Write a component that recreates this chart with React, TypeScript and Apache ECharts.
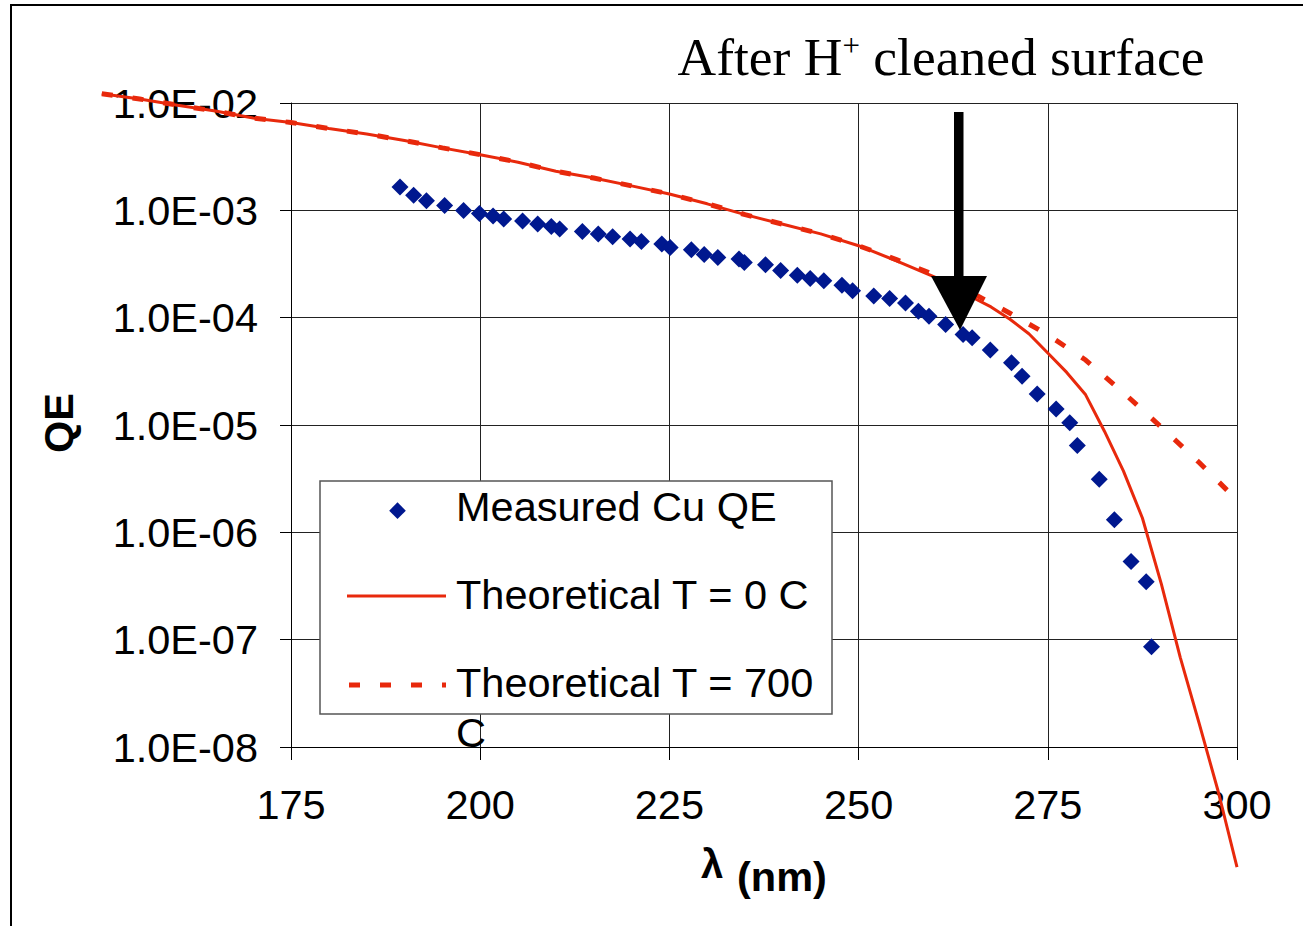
import React, { useEffect, useRef } from "react";
import * as echarts from "echarts";

// Measured Cu QE (wavelength nm, QE)
const measuredLambda = [
  189.4, 191.2, 192.9, 195.3, 197.8, 199.9, 201.7, 203.1, 205.6, 207.6,
  209.4, 210.5, 213.5, 215.6, 217.5, 219.8, 221.3, 224.0, 225.1, 227.9,
  229.6, 231.4, 234.2, 234.9, 237.7, 239.7, 241.9, 243.6, 245.4, 247.8,
  249.2, 252.0, 254.1, 256.2, 257.9, 259.3, 261.5, 263.8, 265.0, 267.4,
  270.2, 271.6, 273.6, 276.1, 277.9, 278.9, 281.8, 283.8, 286.0, 288.0,
  288.7,
];
const measuredQE = [
  1.65e-3, 1.38e-3, 1.23e-3, 1.11e-3, 9.98e-4, 9.35e-4, 8.85e-4, 8.3e-4, 7.94e-4, 7.45e-4,
  7.07e-4, 6.69e-4, 6.36e-4, 6.01e-4, 5.67e-4, 5.41e-4, 5.13e-4, 4.85e-4, 4.51e-4, 4.3e-4,
  3.88e-4, 3.64e-4, 3.52e-4, 3.27e-4, 3.11e-4, 2.75e-4, 2.49e-4, 2.32e-4, 2.21e-4, 2.0e-4,
  1.78e-4, 1.59e-4, 1.51e-4, 1.37e-4, 1.15e-4, 1.03e-4, 8.64e-5, 6.97e-5, 6.5e-5, 4.99e-5,
  3.8e-5, 2.85e-5, 1.94e-5, 1.41e-5, 1.05e-5, 6.44e-6, 3.13e-6, 1.31e-6, 5.34e-7, 3.46e-7,
  8.57e-8,
];

// Theoretical T = 0 C
const theoryT0Lambda = [
  150, 155, 160, 165, 170, 175, 180, 185, 190, 195, 200, 205, 210, 215, 220, 225,
  230, 235, 240, 245, 250, 255, 260, 262.5, 265, 267.5, 270, 272.5, 275, 277.5,
  280, 282.5, 285, 287.5, 290, 292.5, 295, 297.5, 300,
];
const theoryT0QE = [
  1.22e-2, 1.09e-2, 9.55e-3, 8.41e-3, 7.24e-3, 6.58e-3, 5.78e-3, 5.15e-3, 4.47e-3, 3.82e-3,
  3.3e-3, 2.81e-3, 2.31e-3, 2.0e-3, 1.69e-3, 1.42e-3, 1.15e-3, 9.12e-4, 7.41e-4, 6.03e-4,
  4.68e-4, 3.39e-4, 2.4e-4, 1.91e-4, 1.55e-4, 1.26e-4, 9.66e-5, 7.08e-5, 4.68e-5, 3.09e-5,
  1.91e-5, 8.71e-6, 3.72e-6, 1.36e-6, 3.31e-7, 6.84e-8, 1.66e-8, 3.89e-9, 7.59e-10,
];

// Theoretical T = 700 C
const theoryT700Lambda = [
  150, 155, 160, 165, 170, 175, 180, 185, 190, 195, 200, 205, 210, 215, 220, 225,
  230, 235, 240, 245, 250, 255, 260, 265, 270, 275, 280, 285, 290, 295, 300,
];
const theoryT700QE = [
  1.22e-2, 1.09e-2, 9.55e-3, 8.41e-3, 7.24e-3, 6.58e-3, 5.78e-3, 5.15e-3, 4.47e-3, 3.82e-3,
  3.3e-3, 2.81e-3, 2.31e-3, 2.0e-3, 1.69e-3, 1.42e-3, 1.15e-3, 9.12e-4, 7.41e-4, 6.03e-4,
  4.68e-4, 3.47e-4, 2.51e-4, 1.7e-4, 1.1e-4, 6.92e-5, 4.03e-5, 2.0e-5, 9.55e-6, 4.47e-6, 2.0e-6,
];

const xTickLabels = ["175", "200", "225", "250", "275", "300"];
const yTickLabels = ["1.0E-08", "1.0E-07", "1.0E-06", "1.0E-05", "1.0E-04", "1.0E-03", "1.0E-02"];

const seriesNames = ["Measured Cu QE", "Theoretical T = 0 C", "Theoretical T = 700\nC"];
const titleText = "After H";

const RED = "#E8290C";
const BLUE = "#00188F";
const FONT = "Liberation Sans";
const FS = 41.5;

// plot area geometry
const GRID_LEFT = 291;
const GRID_TOP = 103;
const GRID_W = 946;
const GRID_H = 644;
const X_MIN = 175;
const X_MAX = 300;
const THEORY_X_MIN = 150;
const PX_PER_NM = GRID_W / (X_MAX - X_MIN);

export default function App() {
  const ref = useRef<HTMLDivElement>(null);

  useEffect(() => {
    if (!ref.current) return;
    const chart = echarts.init(ref.current, undefined, { renderer: "svg" });

    const measured = measuredLambda.map((x, i) => [x, measuredQE[i]]);
    const t0 = theoryT0Lambda.map((x, i) => [x, theoryT0QE[i]]);
    const t700 = theoryT700Lambda.map((x, i) => [x, theoryT700QE[i]]);

    const extLeft = GRID_LEFT - (X_MIN - THEORY_X_MIN) * PX_PER_NM;

    const option: any = {
      animation: false,
      backgroundColor: "#fff",
      grid: [
        { left: GRID_LEFT, top: GRID_TOP, width: GRID_W, height: GRID_H, containLabel: false },
        { left: extLeft, top: GRID_TOP, width: GRID_W + (GRID_LEFT - extLeft), height: GRID_H, containLabel: false },
      ],
      xAxis: [
        {
          type: "value",
          gridIndex: 0,
          min: X_MIN,
          max: X_MAX,
          interval: 25,
          axisLine: { show: true, onZero: false, lineStyle: { color: "#000", width: 1 } },
          axisTick: { show: true, length: 13, lineStyle: { color: "#000" } },
          axisLabel: {
            margin: 36,
            fontFamily: FONT,
            fontSize: FS,
            color: "#000",
            formatter: (v: number) => xTickLabels[Math.round((v - X_MIN) / 25)] ?? "",
          },
          splitLine: { show: true, lineStyle: { color: "#222", width: 1 } },
        },
        {
          type: "value",
          gridIndex: 1,
          min: THEORY_X_MIN,
          max: X_MAX,
          show: false,
          splitLine: { show: false },
        },
      ],
      yAxis: [
        {
          type: "log",
          gridIndex: 0,
          logBase: 10,
          min: 1e-8,
          max: 1e-2,
          splitNumber: 6,
          axisLine: { show: true, lineStyle: { color: "#000", width: 1 } },
          axisTick: { show: true, length: 11, lineStyle: { color: "#000" } },
          minorTick: { show: false },
          axisLabel: {
            margin: 33,
            fontFamily: FONT,
            fontSize: FS,
            color: "#000",
            formatter: (v: number) => yTickLabels[Math.round(Math.log10(v)) + 8] ?? "",
          },
          splitLine: { show: true, lineStyle: { color: "#222", width: 1 } },
        },
        {
          type: "log",
          gridIndex: 1,
          logBase: 10,
          min: 1e-8,
          max: 1e-2,
          show: false,
          splitLine: { show: false },
        },
      ],
      series: [
        {
          name: seriesNames[0],
          type: "scatter",
          xAxisIndex: 0,
          yAxisIndex: 0,
          symbol: "diamond",
          symbolSize: 17,
          itemStyle: { color: BLUE, opacity: 1 },
          data: measured,
          z: 3,
        },
        {
          name: seriesNames[1],
          type: "line",
          xAxisIndex: 1,
          yAxisIndex: 1,
          symbol: "none",
          clip: false,
          lineStyle: { color: RED, width: 3 },
          data: t0,
          z: 4,
        },
        {
          name: seriesNames[2],
          type: "line",
          xAxisIndex: 1,
          yAxisIndex: 1,
          symbol: "none",
          clip: false,
          lineStyle: { color: RED, width: 5, type: [11, 20] },
          data: t700,
          z: 5,
        },
      ],
      graphic: [
        // outer chart-area border
        {
          type: "rect",
          z: 1,
          silent: true,
          shape: { x: 11, y: 5, width: 1400, height: 1000 },
          style: { fill: "none", stroke: "#000", lineWidth: 2 },
        },
        // title
        {
          type: "text",
          z: 20,
          x: 941,
          y: 57,
          style: {
            text: "{a|" + titleText + "}{s|+}{a| cleaned surface}",
            align: "center",
            verticalAlign: "middle",
            rich: {
              a: { fontFamily: "Liberation Serif", fontSize: 53.5, fill: "#000" },
              s: { fontFamily: "Liberation Serif", fontSize: 31, fill: "#000", verticalAlign: "top" },
            },
          },
        },
        // arrow
        {
          type: "rect",
          z: 20,
          shape: { x: 954, y: 112, width: 9.5, height: 166 },
          style: { fill: "#000" },
        },
        {
          type: "polygon",
          z: 20,
          shape: { points: [[931, 276], [987, 276], [960, 330]] },
          style: { fill: "#000" },
        },
        // y axis name
        {
          type: "text",
          z: 20,
          x: 58,
          y: 423,
          rotation: Math.PI / 2,
          style: {
            text: "QE",
            fontFamily: FONT,
            fontWeight: "bold",
            fontSize: FS,
            fill: "#000",
            align: "center",
            verticalAlign: "middle",
          },
        },
        // x axis name
        {
          type: "text",
          z: 20,
          x: 712,
          y: 864,
          style: {
            text: "λ",
            fontFamily: FONT,
            fontWeight: "bold",
            fontSize: 40,
            fill: "#000",
            align: "center",
            verticalAlign: "middle",
          },
        },
        {
          type: "text",
          z: 20,
          x: 737,
          y: 876,
          style: {
            text: "(nm)",
            fontFamily: FONT,
            fontWeight: "bold",
            fontSize: FS,
            fill: "#000",
            align: "left",
            verticalAlign: "middle",
          },
        },
        // legend
        {
          type: "rect",
          z: 30,
          shape: { x: 320, y: 481, width: 512, height: 233 },
          style: { fill: "#fff", stroke: "#555", lineWidth: 1.5 },
        },
        {
          type: "polygon",
          z: 31,
          shape: { points: [[397.5, 502.3], [405.8, 510.7], [397.5, 519], [389.2, 510.7]] },
          style: { fill: BLUE },
        },
        {
          type: "line",
          z: 31,
          shape: { x1: 347, y1: 596, x2: 446, y2: 596 },
          style: { stroke: RED, lineWidth: 3 },
        },
        {
          type: "line",
          z: 31,
          shape: { x1: 349, y1: 685, x2: 446, y2: 685 },
          style: { stroke: RED, lineWidth: 5, lineDash: [11, 20] },
        },
        {
          type: "text",
          z: 31,
          x: 456,
          y: 506,
          style: { text: seriesNames[0], fontFamily: FONT, fontSize: FS, fill: "#000", align: "left", verticalAlign: "middle" },
        },
        {
          type: "text",
          z: 31,
          x: 456,
          y: 594,
          style: { text: seriesNames[1], fontFamily: FONT, fontSize: FS, fill: "#000", align: "left", verticalAlign: "middle" },
        },
        {
          type: "text",
          z: 31,
          x: 456,
          y: 707,
          style: {
            text: seriesNames[2],
            fontFamily: FONT,
            fontSize: FS,
            lineHeight: 50,
            fill: "#000",
            align: "left",
            verticalAlign: "middle",
          },
        },
      ],
    };

    chart.setOption(option);
    return () => chart.dispose();
  }, []);

  return (
    <div
      ref={ref}
      style={{ position: "fixed", left: 0, top: 0, width: 1303, height: 926 }}
    />
  );
}
